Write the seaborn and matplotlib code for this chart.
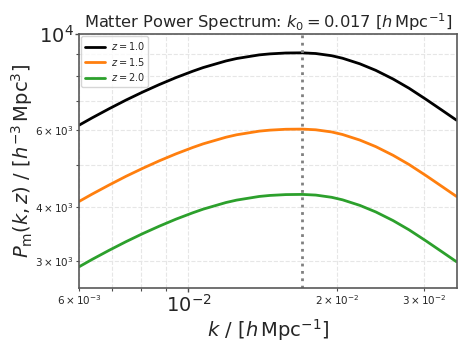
import numpy as np
import pandas as pd
import matplotlib
matplotlib.use("Agg")
import matplotlib.pyplot as plt
import seaborn as sns

# Wavenumbers k [h/Mpc]
k_vals = [0.00601, 0.006377, 0.006904, 0.00747, 0.008077, 0.008727, 0.009434,
          0.0102, 0.01071, 0.01191, 0.01252, 0.01391, 0.01462, 0.01575,
          0.017, 0.01811, 0.0195, 0.02052, 0.02224, 0.02396, 0.02597,
          0.02799, 0.03034, 0.03269, 0.03491]
# P_m(k, z) [h^-3 Mpc^3]
pk_z10 = [6171, 6409, 6727, 7044, 7351, 7648, 7937, 8209, 8370, 8668, 8781,
          8952, 9000, 9042, 9050, 9017, 8913, 8794, 8539, 8247, 7877, 7499,
          7062, 6666, 6333]
pk_z15 = [4118, 4277, 4489, 4701, 4905, 5104, 5296, 5478, 5585, 5784, 5860,
          5974, 6006, 6034, 6039, 6017, 5948, 5868, 5698, 5503, 5256, 5004,
          4713, 4448, 4226]
pk_z20 = [2912, 3025, 3175, 3324, 3469, 3609, 3746, 3874, 3950, 4091, 4144,
          4225, 4248, 4267, 4271, 4256, 4206, 4150, 4030, 3892, 3718, 3539,
          3333, 3146, 2989]
z_labels = [r"$z = 1.0$", r"$z = 1.5$", r"$z = 2.0$"]
k0 = 0.017

df = pd.DataFrame({
    "k": k_vals * 3,
    "P": pk_z10 + pk_z15 + pk_z20,
    "z": [z_labels[0]] * len(k_vals) + [z_labels[1]] * len(k_vals) + [z_labels[2]] * len(k_vals),
})

sns.set_theme(style="white")
plt.rcParams['font.family'] = ['DejaVu Sans']
plt.rcParams['mathtext.fontset'] = 'dejavusans'

fig = plt.figure(figsize=(4.68, 3.51), dpi=100)
ax = fig.add_axes([0.1688, 0.1795, 0.9765 - 0.1688, 0.9031 - 0.1795])

sns.lineplot(data=df, x="k", y="P", hue="z", hue_order=z_labels,
             palette=["black", "#ff7f0e", "#2ca02c"], linewidth=2, ax=ax)
ax.axvline(k0, color="gray", linestyle=":", linewidth=2)

ax.set_xscale("log")
ax.set_yscale("log")
ax.set_xlim(0.006, 0.035)
ax.set_ylim(2600, 10000)

ax.grid(True, which="both", linestyle="--", color="0.9", linewidth=0.8)
for s in ax.spines.values():
    s.set_color("0.35")
    s.set_linewidth(1.2)

ax.tick_params(which="major", labelsize=14, length=3, width=1, pad=1,
               color="0.3", bottom=True, left=True)
ax.tick_params(which="minor", labelsize=7.5, length=2.5, width=0.8, pad=1.5,
               color="0.3", bottom=True, left=True)

ax.set_xlabel(r"$k\ /\ [h\,\mathrm{Mpc}^{-1}]$", fontsize=14, labelpad=1)
ax.set_ylabel(r"$P_{\rm m}(k,z)\ /\ [h^{-3}\,\mathrm{Mpc}^3]$", fontsize=14, labelpad=0)
ax.set_title(r"Matter Power Spectrum: $k_0 = 0.017$ $[h\,\mathrm{Mpc}^{-1}]$",
             fontsize=11.7, pad=4)

leg = ax.legend(loc="upper left", fontsize=7, frameon=True, title=None,
                labelspacing=0.35, handlelength=2.0, borderaxespad=0.25,
                borderpad=0.4, handletextpad=0.6)
leg.get_frame().set_edgecolor("0.8")

fig.savefig("out.png", dpi=100)
